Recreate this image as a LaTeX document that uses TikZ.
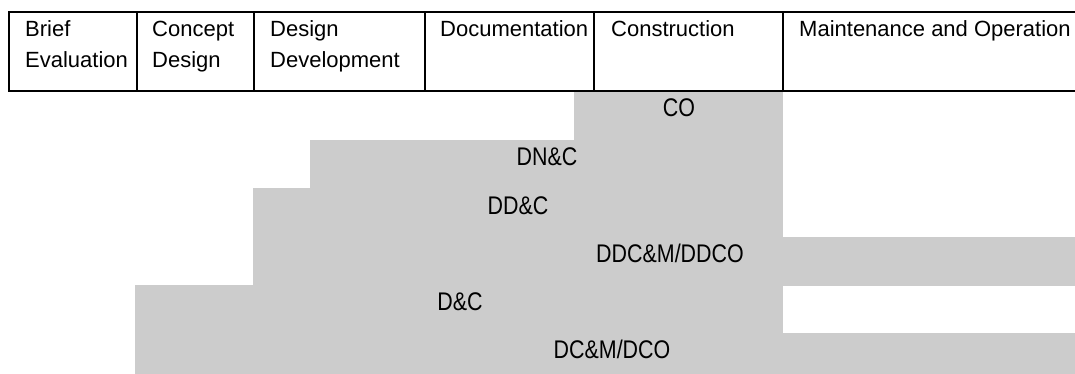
\documentclass[tikz,border=0pt]{standalone}
\usepackage{fontspec}
\setmainfont{Liberation Sans}
\newfontfamily\narrowfont{Liberation Sans}[FakeStretch=0.84]
\definecolor{barg}{HTML}{CCCCCC}
\tikzset{
  hdr/.style={font=\fontsize{22}{26}\selectfont, anchor=base west, inner sep=0pt},
  lbl/.style={font=\narrowfont\fontsize{25.5}{30}\selectfont, anchor=base, inner sep=0pt},
  bar/.style={fill=barg, draw=none},
  rule/.style={line width=2pt, draw=black}
}
\begin{document}
\begin{tikzpicture}[x=1pt,y=-1pt]
\useasboundingbox (0,0) rectangle (1075,374);
% bars
\fill[bar] (574,92) rectangle (783,140.5);
\fill[bar] (310,140) rectangle (783,188.5);
\fill[bar] (253,188) rectangle (783,237.5);
\fill[bar] (253,237) rectangle (1075,285.5);
\fill[bar] (135,285) rectangle (783,333.5);
\fill[bar] (135,333) rectangle (1075,374);
% labels
\node[lbl] (co) at (679,117) {CO};
\node[lbl] (dnc) at (547,166) {DN\&C};
\node[lbl] (ddc) at (518,214) {DD\&C};
\node[lbl] (ddcm) at (670,262) {DDC\&M/DDCO};
\node[lbl] (dc) at (460,310) {D\&C};
\node[lbl] (dcm) at (612,358) {DC\&M/DCO};
% table
\draw[rule] (1075,12) -- (9,12) -- (9,91.5) -- (1075,91.5);
\foreach \x in {137,254,425,594,783} \draw[rule] (\x,12) -- (\x,91.5);
% header texts
\node[hdr] (h1a) at (25,37) {Brief};
\node[hdr] (h1b) at (25,68) {Evaluation};
\node[hdr] (h2a) at (152,37) {Concept};
\node[hdr] (h2b) at (152,68) {Design};
\node[hdr] (h3a) at (270,37) {Design};
\node[hdr] (h3b) at (270,68) {Development};
\node[hdr] (h4) at (440,37) {Documentation};
\node[hdr] (h5) at (611,37) {Construction};
\node[hdr] (h6) at (799,37) {Maintenance and Operation};
\end{tikzpicture}
\end{document}
